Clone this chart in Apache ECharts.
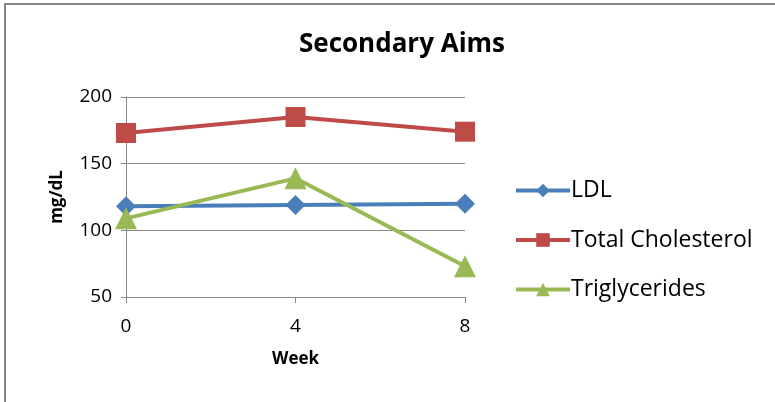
<!DOCTYPE html>
<html><head><meta charset="utf-8">
<script src="https://cdn.jsdelivr.net/npm/echarts@6/dist/echarts.min.js"></script>
<style>html,body{margin:0;padding:0;background:#fff}#c{width:775px;height:402px}</style>
</head><body><div id="c"></div>
<script>
const weeks = ['0', '4', '8'];
const ldl = [118, 119, 120];
const totalChol = [173, 185, 174];
const triglycerides = [109, 139, 73];
const yTicks = [50, 100, 150, 200];

const chart = echarts.init(document.getElementById('c'));
const font = '"Open Sans", Lato, sans-serif';
chart.setOption({
  animation: false,
  backgroundColor: '#fff',
  title: {text: 'Secondary Aims', left: 397, top: 27, textAlign: 'center',
    textStyle: {fontFamily: font, fontWeight: 'bold', fontSize: 26, color: '#000'}},
  grid: {left: 126, right: 310, top: 97, bottom: 105},
  graphic: [{type: 'rect', shape: {x: 5, y: 4, width: 800, height: 420},
    style: {fill: 'none', stroke: '#878787', lineWidth: 2}, silent: true}],
  legend: {orient: 'vertical', left: 509, top: 174, itemGap: 26.5, itemWidth: 54, itemHeight: 17,
    lineStyle: {width: 4},
    textStyle: {fontFamily: font, fontSize: 23, color: '#000', padding: [0,0,0,-4]},
    data: ['LDL', 'Total Cholesterol', 'Triglycerides']},
  xAxis: {type: 'category', data: weeks, boundaryGap: false,
    name: 'Week', nameLocation: 'middle', nameGap: 54,
    nameTextStyle: {fontFamily: font, fontWeight: 'bold', fontSize: 17, color: '#000'},
    axisLine: {lineStyle: {color: '#868686', width: 1}},
    axisTick: {show: true, length: 6, lineStyle: {color: '#868686'}},
    axisLabel: {fontFamily: font, fontSize: 19, color: '#000', margin: 20},
    splitLine: {show: false}},
  yAxis: {type: 'value', min: 50, max: 200, interval: 50,
    name: 'mg/dL', nameLocation: 'middle', nameGap: 60, nameRotate: 90,
    nameTextStyle: {fontFamily: font, fontWeight: 'bold', fontSize: 17, color: '#000'},
    axisLine: {show: true, lineStyle: {color: '#868686', width: 1}},
    axisTick: {show: true, length: 5, lineStyle: {color: '#868686'}},
    axisLabel: {fontFamily: font, fontSize: 19, color: '#000', margin: 14,
      formatter: v => yTicks.includes(v) ? String(v) : ''},
    splitLine: {lineStyle: {color: '#868686', width: 1}}},
  series: [
    {name: 'LDL', type: 'line', data: ldl, symbol: 'diamond', symbolSize: 20,
      color: '#4a7ebb', lineStyle: {width: 4, color: '#4a7ebb'}, itemStyle: {color: '#4a7ebb'}},
    {name: 'Total Cholesterol', type: 'line', data: totalChol, symbol: 'rect', symbolSize: 20,
      color: '#be4b48', lineStyle: {width: 4, color: '#be4b48'}, itemStyle: {color: '#be4b48'}},
    {name: 'Triglycerides', type: 'line', data: triglycerides, symbol: 'triangle', symbolSize: 22,
      color: '#98b954', lineStyle: {width: 4, color: '#98b954'}, itemStyle: {color: '#98b954'}}
  ]
});
</script></body></html>
